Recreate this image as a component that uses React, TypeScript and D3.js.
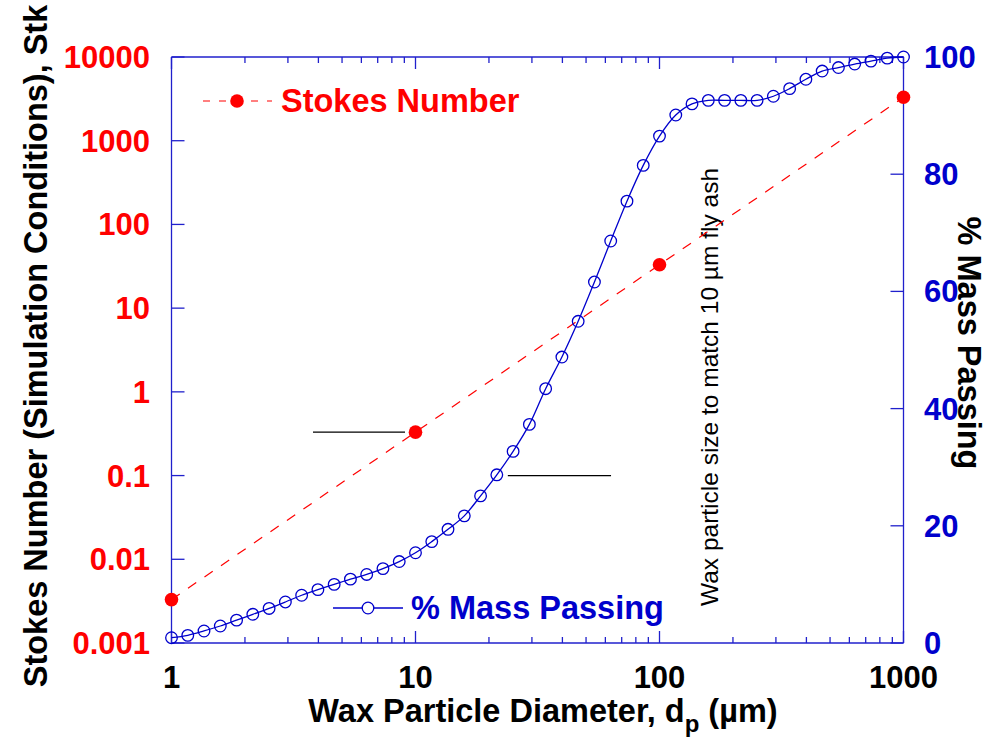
import React from "react";
import * as d3 from "d3";

// Particle diameters (µm) of the measured size distribution
const diameters = [
  1, 1.166, 1.359, 1.585, 1.848, 2.154, 2.512, 2.929, 3.415, 3.981,
  4.642, 5.412, 6.31, 7.356, 8.577, 10, 11.66, 13.59, 15.85, 18.48,
  21.54, 25.12, 29.29, 34.15, 39.81, 46.42, 54.12, 63.1, 73.56, 85.77,
  100, 116.6, 135.9, 158.5, 184.8, 215.4, 251.2, 292.9, 341.5, 398.1,
  464.2, 541.2, 631, 735.6, 857.7, 1000,
];

// Cumulative % mass passing at each diameter
const massPassing = [
  0.9, 1.3, 2.05, 2.9, 3.9, 4.9, 5.9, 7.0, 8.15, 9.1,
  10.0, 10.9, 11.7, 12.7, 13.9, 15.4, 17.3, 19.4, 21.7, 25.1,
  28.7, 32.7, 37.3, 43.4, 48.8, 54.9, 61.6, 68.6, 75.4, 81.5,
  86.5, 90.1, 92.0, 92.6, 92.6, 92.6, 92.6, 93.3, 94.6, 96.2,
  97.6, 98.2, 98.8, 99.3, 99.8, 100,
];

// Stokes number under simulation conditions
const stokesDiameters = [1, 10, 100, 1000];
const stokesNumbers = [0.0033, 0.33, 33, 3300];

// Axis ticks
const xTicks = [1, 10, 100, 1000];
const xTickLabels = ["1", "10", "100", "1000"];
const stkTicks = [0.001, 0.01, 0.1, 1, 10, 100, 1000, 10000];
const stkTickLabels = ["0.001", "0.01", "0.1", "1", "10", "100", "1000", "10000"];
const pctTicks = [0, 20, 40, 60, 80, 100];
const pctTickLabels = ["0", "20", "40", "60", "80", "100"];

// Horizontal marker lines: [dp start, dp end, Stk level]
const markerLines: [number, number, number][] = [
  [3.8, 9.06, 0.33],
  [23.9, 63.3, 0.1],
];

const RED = "#ff0000";
const BLUE = "#0000cc";
const AXIS = "#2020cc";
const FONT = "'Liberation Sans', Arial, Helvetica, sans-serif";

const L = 171.5, R = 903.5, T = 57, B = 643;

export default function App() {
  const x = d3.scaleLog().domain([1, 1000]).range([L, R]);
  const yStk = d3.scaleLog().domain([0.001, 10000]).range([B, T]);
  const yPct = d3.scaleLinear().domain([0, 100]).range([B, T]);

  const minorX: number[] = [];
  [1, 10, 100].forEach((dec) => {
    for (let k = 2; k <= 9; k++) minorX.push(dec * k);
  });

  const massLine = d3
    .line<number>()
    .x((_, i) => x(diameters[i]))
    .y((v) => yPct(v))
    .curve(d3.curveCatmullRom.alpha(0.5))(massPassing) as string;

  const stkLine = d3
    .line<number>()
    .x((_, i) => x(stokesDiameters[i]))
    .y((v) => yStk(v))(stokesNumbers) as string;

  return (
    <svg
      width={1000}
      height={744}
      style={{ position: "absolute", left: 0, top: 0, background: "#fff" }}
      fontFamily={FONT}
    >
      {/* frame */}
      <g stroke={AXIS} strokeWidth={1.3} fill="none">
        <line x1={L} y1={B} x2={R} y2={B} />
        <line x1={L} y1={T} x2={R} y2={T} />
        <line x1={L} y1={T} x2={L} y2={B} />
        <line x1={R} y1={T} x2={R} y2={B} />
        {xTicks.map((t) => (
          <g key={"xt" + t}>
            <line x1={x(t)} y1={B} x2={x(t)} y2={B - 12} />
            <line x1={x(t)} y1={T} x2={x(t)} y2={T + 12} />
          </g>
        ))}
        {minorX.map((t) => (
          <g key={"xm" + t}>
            <line x1={x(t)} y1={B} x2={x(t)} y2={B - 6} />
            <line x1={x(t)} y1={T} x2={x(t)} y2={T + 6} />
          </g>
        ))}
        {stkTicks.map((t) => (
          <line key={"yl" + t} x1={L} y1={yStk(t)} x2={L + 13} y2={yStk(t)} />
        ))}
        {pctTicks.map((t) => (
          <line key={"yr" + t} x1={R} y1={yPct(t)} x2={R - 13} y2={yPct(t)} />
        ))}
      </g>

      {/* tick labels */}
      <g fontWeight="bold" fontSize={31}>
        {xTicks.map((t, i) => (
          <text key={"xl" + t} x={x(t)} y={688} textAnchor="middle" fill="#000">
            {xTickLabels[i]}
          </text>
        ))}
        {stkTicks.map((t, i) => (
          <text key={"sl" + t} x={150} y={yStk(t) + 11} textAnchor="end" fill={RED}>
            {stkTickLabels[i]}
          </text>
        ))}
        {pctTicks.map((t, i) => (
          <text key={"pl" + t} x={924} y={yPct(t) + 11} textAnchor="start" fill={BLUE}>
            {pctTickLabels[i]}
          </text>
        ))}
      </g>

      {/* axis titles */}
      <text x={543} y={722} textAnchor="middle" fontWeight="bold" fontSize={32.5} fill="#000">
        Wax Particle Diameter, d
        <tspan fontSize={24} dy={10}>p</tspan>
        <tspan dy={-10}> (µm)</tspan>
      </text>
      <text
        transform="translate(47,346) rotate(-90)"
        textAnchor="middle"
        fontWeight="bold"
        fontSize={32.5}
        fill="#000"
      >
        Stokes Number (Simulation Conditions), Stk
      </text>
      <text
        transform="translate(958,343) rotate(90)"
        textAnchor="middle"
        fontWeight="bold"
        fontSize={32.5}
        fill="#000"
      >
        % Mass Passing
      </text>

      {/* marker lines and note */}
      <g stroke="#000" strokeWidth={1.3}>
        {markerLines.map(([a, b, s], i) => (
          <line key={"ml" + i} x1={x(a)} x2={x(b)} y1={yStk(s)} y2={yStk(s)} />
        ))}
      </g>
      <text
        transform="translate(718,387) rotate(-90)"
        textAnchor="middle"
        fontSize={24.5}
        fill="#000"
      >
        Wax particle size to match 10 µm fly ash
      </text>

      {/* Stokes number series */}
      <path d={stkLine} fill="none" stroke={RED} strokeWidth={1.2} strokeDasharray="10,10" />
      {stokesNumbers.map((v, i) => (
        <circle key={"sp" + i} cx={x(stokesDiameters[i])} cy={yStk(v)} r={6.8} fill={RED} />
      ))}

      {/* mass passing series */}
      <path d={massLine} fill="none" stroke={BLUE} strokeWidth={1.3} />
      {massPassing.map((v, i) => (
        <circle
          key={"mp" + i}
          cx={x(diameters[i])}
          cy={yPct(v)}
          r={5.8}
          fill="none"
          stroke={BLUE}
          strokeWidth={1.3}
        />
      ))}

      {/* legends */}
      <line x1={203} x2={272} y1={101} y2={101} stroke={RED} strokeWidth={1.2} strokeDasharray="7,9" />
      <circle cx={237} cy={101} r={6.8} fill={RED} />
      <text x={281} y={112} fontWeight="bold" fontSize={32.5} fill={RED}>
        Stokes Number
      </text>

      <line x1={333} x2={403} y1={608} y2={608} stroke={BLUE} strokeWidth={1.3} />
      <circle cx={368} cy={608} r={5.8} fill="#fff" stroke={BLUE} strokeWidth={1.3} />
      <text x={411} y={619} fontWeight="bold" fontSize={32.5} fill={BLUE}>
        % Mass Passing
      </text>
    </svg>
  );
}
